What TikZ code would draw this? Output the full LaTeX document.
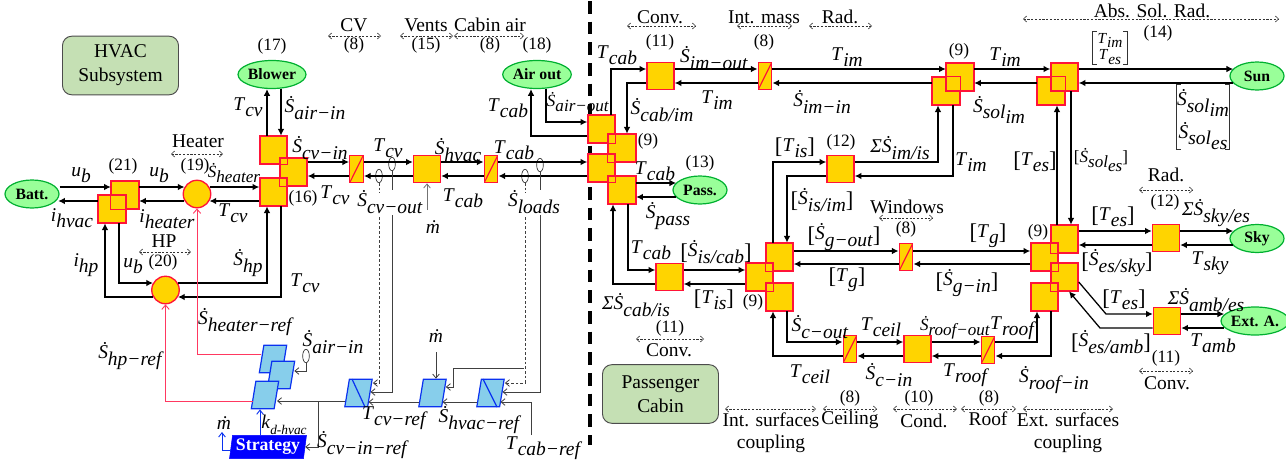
\documentclass[tikz,border=0pt]{standalone}
\usepackage{fontspec}
\setmainfont{Liberation Serif}
\usetikzlibrary{arrows.meta,shapes.geometric}
\definecolor{sqfill}{HTML}{FFD400}
\definecolor{sqred}{HTML}{FF1438}
\definecolor{ellg}{HTML}{99FF99}
\definecolor{elle}{HTML}{00B030}
\definecolor{boxg}{HTML}{C5E0B4}
\definecolor{pfill}{HTML}{87CEEB}
\definecolor{pblue}{HTML}{0A32F0}
\definecolor{pinkl}{HTML}{FF3860}
\newcommand{\fL}{\fontsize{14.6}{17}\selectfont}
\newcommand{\fN}{\fontsize{13}{15}\selectfont}
\newcommand{\Sd}{\textit{\.S}}
\newcommand{\Md}{\textit{\.m}}
\newcommand{\Lab}[2]{\textit{#1}\raisebox{-0.32em}{\textit{#2}}}
\newcommand{\Sl}[1]{\Sd\raisebox{-0.32em}{\textit{#1}}}
\newcommand{\Tl}[1]{\textit{T}\raisebox{-0.32em}{\textit{#1}}}
\newcommand{\lB}{\raisebox{-0.12em}{\fontsize{17}{17}\selectfont[}}
\newcommand{\rB}{\raisebox{-0.12em}{\fontsize{17}{17}\selectfont]}}
\newcommand{\ph}{\phantom{\rule{2pt}{2pt}}}
\newcounter{lc}
\newcommand{\lb}[3]{\stepcounter{lc}\node[lbl] (L\arabic{lc}) at (#1,#2) {#3};}
\newcommand{\nm}[3]{\stepcounter{lc}\node[numl] (L\arabic{lc}) at (#1,#2) {#3};}
\newcommand{\ls}[3]{\stepcounter{lc}\node[lbl,font=\fontsize{12.8}{14}\selectfont] (L\arabic{lc}) at (#1,#2) {#3};}
\newcommand{\rng}[3]{\draw[rangeln] (#1,#3) -- (#2,#3);}
\newcommand{\ov}[1]{\draw[sqline] (#1.south west) rectangle (#1.north east);}
\newcommand{\brk}[1]{\draw[brkline] ([xshift=3pt]#1.north west) -- (#1.north west) -- (#1.south west) -- ([xshift=3pt]#1.south west); \draw[brkline] ([xshift=-3pt]#1.north east) -- (#1.north east) -- (#1.south east) -- ([xshift=-3pt]#1.south east);}
\tikzset{
 lbl/.style={inner sep=0pt,font=\fL},
 numl/.style={inner sep=0pt,font=\fN},
 sqr/.style={draw=sqred,fill=sqfill,line width=1pt,minimum width=20.4pt,minimum height=20.6pt,inner sep=0pt},
 sqline/.style={draw=sqred,line width=1pt},
 brkline/.style={draw=black!80,line width=0.7pt},
 convb/.style={draw=sqred,fill=sqfill,line width=1pt,minimum width=10.2pt,minimum height=20.6pt,inner sep=0pt,
   path picture={\draw[sqred,line width=0.9pt] (path picture bounding box.south west) -- (path picture bounding box.north east);}},
 circb/.style={circle,draw=sqred,fill=sqfill,line width=1pt,minimum size=20.6pt,inner sep=0pt},
 ell/.style={ellipse,draw=elle,fill=ellg,line width=0.9pt,minimum width=40.5pt,minimum height=21pt,inner sep=0pt,font=\fontsize{11.8}{13}\selectfont\bfseries},
 gbox/.style={draw=black!70,fill=boxg,rounded corners=7pt,line width=0.7pt,align=center,inner sep=0pt,font=\fL},
 pgm/.style={trapezium,trapezium left angle=76,trapezium right angle=104,trapezium stretches=true,draw=pblue,fill=pfill,line width=0.9pt,minimum width=20.5pt,minimum height=20.6pt,inner sep=0pt},
 sens/.style={ellipse,draw=black!80,line width=0.5pt,minimum width=5pt,minimum height=10pt,inner sep=0pt},
 ar/.style={draw=black,line width=0.95pt,-{Latex[length=5pt,width=5pt]}},
 ctl/.style={draw=black!75,line width=0.6pt,-{Straight Barb[length=3pt,width=5pt]}},
 ctd/.style={ctl,dashed,dash pattern=on 2pt off 1.5pt},
 ctr/.style={draw=pinkl,line width=0.7pt,-{Straight Barb[length=3.2pt,width=5.5pt]}},
 ctb/.style={draw=pblue,line width=0.7pt,-{Straight Barb[length=3.2pt,width=5pt]}},
 rangeln/.style={draw=black!80,line width=0.45pt,dash pattern=on 1.6pt off 1.2pt,{Straight Barb[length=2.4pt,width=4.5pt]}-{Straight Barb[length=2.4pt,width=4.5pt]}}
}
\begin{document}
\begin{tikzpicture}[x=0.75pt,y=-0.75pt]
\useasboundingbox (0,0) rectangle (1286,461);
% divider
\draw[line width=2.6pt,dash pattern=on 9.5pt off 6pt] (590,1) -- (590,445);
% boxes
\node[gbox,minimum width=87pt,minimum height=44pt] (hvac) at (120.5,65.5) {HVAC\\[1pt]Subsystem};
\node[gbox,minimum width=87pt,minimum height=44pt] (cabin) at (660.5,394) {Passenger\\[1pt]Cabin};
% ellipses
\node[ell] (batt) at (32,194) {Batt.};
\node[ell] (blower) at (272,74.5) {Blower};
\node[ell] (airout) at (537,74.5) {Air out};
\node[ell] (pass) at (700,190) {Pass.};
\node[ell] (sun) at (1257,76) {Sun};
\node[ell] (sky) at (1257,238.5) {Sky};
\node[ell] (exta) at (1255,321) {Ext. A.};
% squares
\node[sqr] (s21a) at (125,195) {};
\node[sqr] (s21b) at (112,209) {};
\node[circb] (c19) at (197,194) {};
\node[circb] (c20) at (165.5,290) {};
\node[sqr] (s16a) at (273.5,150) {};
\node[sqr] (s16b) at (293.5,172) {};
\node[sqr] (s16c) at (273.5,192) {};
\node[convb] (conv1) at (356.5,169) {};
\node[sqr] (s15) at (427,169) {};
\node[convb] (conv2) at (491,169) {};
\node[sqr] (s9a) at (601.5,129) {};
\node[sqr] (s9b) at (622,148) {};
\node[sqr] (s9c) at (601.5,168) {};
\node[sqr] (s9d) at (622,190) {};
\node[sqr] (s11a) at (660.5,76) {};
\node[convb] (conv3) at (765,76) {};
\node[sqr] (s9f) at (946,91) {};
\node[sqr] (s9e) at (960,77) {};
\node[sqr] (s14b) at (1051,91) {};
\node[sqr] (s14a) at (1064.5,77) {};
\node[sqr] (s12a) at (840.5,169) {};
\node[sqr] (s11b) at (669.5,277) {};
\node[sqr] (s9g) at (779.5,257) {};
\node[sqr] (s9h) at (759.5,277) {};
\node[sqr] (s9i) at (779.5,297) {};
\node[convb] (conv4) at (906,257) {};
\node[sqr] (s9j) at (1064.5,239) {};
\node[sqr] (s9k) at (1044.5,257) {};
\node[sqr] (s9l) at (1064.5,277) {};
\node[sqr] (s9m) at (1044.5,297) {};
\node[sqr] (s12b) at (1166,238) {};
\node[sqr] (s11c) at (1167,321) {};
\node[convb] (conv5) at (850,349) {};
\node[sqr] (s10) at (917.5,349) {};
\node[convb] (conv6) at (988,350) {};
\ov{s21a}\ov{s21b}\ov{s16a}\ov{s16b}\ov{s16c}\ov{s9a}\ov{s9b}\ov{s9c}\ov{s9d}\ov{s9e}\ov{s9f}\ov{s14a}\ov{s14b}\ov{s9g}\ov{s9h}\ov{s9i}\ov{s9j}\ov{s9k}\ov{s9l}\ov{s9m}
% parallelograms
\node[pgm] (p1) at (273,359) {\ph};
\node[pgm] (p2) at (281,375) {\ph};
\node[pgm] (p3) at (265,395) {\ph};
\node[pgm] (p4) at (358.5,393) {\ph};
\node[pgm] (p5) at (432.5,393) {\ph};
\node[pgm] (p6) at (490.5,393) {\ph};
\draw[pblue,line width=0.9pt] (352,379) -- (365,407) (483,379) -- (497,407);
\node[trapezium,trapezium left angle=80,trapezium right angle=100,trapezium stretches=true,fill=blue,draw=blue,minimum width=58pt,minimum height=17.5pt,inner sep=0pt,text=white,font=\fontsize{13.3}{15}\selectfont\bfseries] (strat) at (268,447) {Strategy};
% sensors
\node[sens] (eAir) at (306,356) {};
\node[sens] (eTcv) at (392,164) {};
\node[sens] (eScv) at (379,176) {};
\node[sens] (eLoad) at (525,176) {};
\node[sens] (eTcab) at (540,165) {};
% left row
\draw[ar] (batt.east |- 0,187) -- (s21a.west |- 0,187);
\draw[ar] (s21a.east |- 0,187) -- ([xshift=1.4pt]c19.west |- 0,187);
\draw[ar] ([xshift=-1.4pt]c19.east |- 0,187) -- (s16c.west |- 0,187);
\draw[ar] (s16c.west |- 0,201) -- ([xshift=-1.4pt]c19.east |- 0,201);
\draw[ar] ([xshift=1.4pt]c19.west |- 0,201) -- (s21a.east |- 0,201);
\draw[ar] (s21b.west |- 0,201) -- ([xshift=-1pt]batt.east |- 0,201);
\draw[ar] (s16a.north -| 267,0) -- (blower.south -| 267,0);
\draw[ar] (blower.south -| 281,0) -- (s16a.north -| 281,0);
\draw[ar] ([xshift=-1.4pt]c20.east |- 0,283) -| (s16c.south -| 267,0);
\draw[ar] (s16c.south -| 281,0) |- ([xshift=-1.4pt]c20.east |- 0,297);
\draw[ar] ([xshift=1.4pt]c20.west |- 0,297) -| (s21b.south -| 105,0);
\draw[ar] (s21b.south -| 119,0) |- ([xshift=1.4pt]c20.west |- 0,283);
% middle row
\draw[ar] (s16b.east |- 0,162) -- (conv1.west |- 0,162);
\draw[ar] (conv1.east |- 0,162) -- (s15.west |- 0,162);
\draw[ar] (s15.east |- 0,162) -- (conv2.west |- 0,162);
\draw[ar] (conv2.east |- 0,162) -- (s9c.west |- 0,162);
\draw[ar] (s9c.west |- 0,176) -- (conv2.east |- 0,176);
\draw[ar] (conv2.west |- 0,176) -- (s15.east |- 0,176);
\draw[ar] (s15.west |- 0,176) -- (conv1.east |- 0,176);
\draw[ar] (conv1.west |- 0,176) -- (s16b.east |- 0,176);
\draw[ar] (s9a.west |- 0,136) -| (airout.south -| 531,0);
\draw[ar] (airout.south -| 546,0) |- (s9a.west |- 0,122);
\draw[ar] (s9a.north -| 611,0) |- (s11a.west |- 0,69);
\draw[ar] (s11a.west |- 0,83) -| (s9b.north -| 627,0);
% upper right
\draw[ar] (s11a.east |- 0,69) -- (conv3.west |- 0,69);
\draw[ar] (conv3.east |- 0,69) -- (s9e.west |- 0,69);
\draw[ar] (s9e.east |- 0,69) -- (s14a.west |- 0,69);
\draw[ar] (s14a.east |- 0,69) -- ([xshift=2.8pt]sun.west |- 0,69);
\draw[ar] ([xshift=2.8pt]sun.west |- 0,83) -- (s14a.east |- 0,83);
\draw[ar] (s14b.west |- 0,83) -- (s9e.east |- 0,83);
\draw[ar] (s9f.west |- 0,83) -- (conv3.east |- 0,83);
\draw[ar] (conv3.west |- 0,83) -- (s11a.east |- 0,83);
\draw[ar] (s9j.north -| 1057,0) -- (s14b.south -| 1057,0);
\draw[ar] (s14a.south -| 1071,0) -- (s9j.north -| 1071,0);
\draw[ar] (s12a.east |- 0,162) -| (s9f.south -| 938,0);
\draw[ar] (s9f.south -| 953,0) |- (s12a.east |- 0,176);
\draw[ar] (s9g.north -| 773,0) |- (s12a.west |- 0,162);
\draw[ar] (s12a.west |- 0,176) -| (s9g.north -| 787,0);
% pass
\draw[ar] (s9d.east |- 0,183) -- ([xshift=2.8pt]pass.west |- 0,183);
\draw[ar] ([xshift=2.8pt]pass.west |- 0,197) -- (s9d.east |- 0,197);
\draw[ar] (s9d.south -| 628,0) |- (s11b.west |- 0,270);
\draw[ar] (s11b.west |- 0,284) -| (s9d.south -| 613,0);
\draw[ar] (s11b.east |- 0,270) -- (s9h.west |- 0,270);
\draw[ar] (s9h.west |- 0,284) -- (s11b.east |- 0,284);
% windows row
\draw[ar] (s9g.east |- 0,251) -- (conv4.west |- 0,251);
\draw[ar] (conv4.east |- 0,251) -- (s9k.west |- 0,251);
\draw[ar] (s9k.west |- 0,264) -- (conv4.east |- 0,264);
\draw[ar] (conv4.west |- 0,264) -- (s9g.east |- 0,264);
% ceiling row
\draw[ar] (s9i.south -| 787,0) |- (conv5.west |- 0,342);
\draw[ar] (conv5.west |- 0,356) -| (s9i.south -| 773,0);
\draw[ar] (conv5.east |- 0,342) -- (s10.west |- 0,342);
\draw[ar] (s10.west |- 0,356) -- (conv5.east |- 0,356);
\draw[ar] (s10.east |- 0,342) -- (conv6.west |- 0,342);
\draw[ar] (conv6.west |- 0,356) -- (s10.east |- 0,356);
\draw[ar] (conv6.east |- 0,342) -| (s9m.south -| 1037,0);
\draw[ar] (s9m.south -| 1051,0) |- (conv6.east |- 0,356);
% sky, amb
\draw[ar] (s9j.east |- 0,231) -- (s12b.west |- 0,231);
\draw[ar] (s12b.west |- 0,245) -- (s9j.east |- 0,245);
\draw[ar] (s12b.east |- 0,231) -- ([xshift=2.8pt]sky.west |- 0,231);
\draw[ar] ([xshift=2.8pt]sky.west |- 0,245) -- (s12b.east |- 0,245);
\draw[ar] (s9l.east |- 0,282) -- (1106,314) -- (s11c.west |- 0,314);
\draw[ar] (s11c.west |- 0,328) -- (1100,328) -- (s9l.south -| 1069,0);
\draw[ar] (s11c.east |- 0,314) -- ([xshift=2.8pt]exta.west |- 0,314);
\draw[ar] ([xshift=2.8pt]exta.west |- 0,328) -- (s11c.east |- 0,328);
% control
\draw[ctr] (p1.west |- 0,354) -| (c19.south);
\draw[ctr] (p3.west |- 0,401) -| (c20.south);
\draw[ctl] (eAir.south) |- ([xshift=1pt]p2.east |- 0,371);
\draw[ctl] ([xshift=-1.5pt]p4.west |- 0,401) -- (p3.east |- 0,401);
\coordinate (brA) at (318,401);
\draw[ctl] (brA) |- (strat.east |- 0,447);
\draw[ctl] ([xshift=-1.5pt]p5.west |- 0,402) -- ([xshift=-1.5pt]p4.east |- 0,402);
\draw[ctl] ([xshift=-1.5pt]p6.west |- 0,402) -- ([xshift=-1.5pt]p5.east |- 0,402);
\coordinate (tcabref) at (531,435);
\draw[ctl] (tcabref) |- ([xshift=-1.5pt]p6.east |- 0,402);
\draw[ctl] (eTcv.south) -- ++(0,19) ++(0,25) |- (p4.east |- 0,392);
\draw[ctd] (eScv.south) -- ++(0,10) ++(0,24) |- ([xshift=1.8pt]p4.east |- 0,383);
\draw[ctd] (eLoad.south) -- ++(0,10) ++(0,24) |- ([xshift=1.8pt]p6.east |- 0,383);
\draw[ctl] (eTcab.south) -- ++(0,18) ++(0,25) |- (p6.east |- 0,392);
\coordinate (brB) at (524,368);
\draw[ctl] (brB) -| (453,387) -- ([xshift=1pt]p5.east |- 0,387);
\coordinate (m1) at (427,210);
\draw[ctl,draw=black!55] (m1) -- (s15.south);
\draw[ctl] (436,352) -- (p5.north -| 436,0);
\draw[ctb] (strat.north -| 260,0) -- (p3.south -| 260,0);
\coordinate (m3) at (222,432);
\draw[ctb] (strat.west |- 0,450) -| (m3);
% ranges
\rng{171}{223}{154}\rng{139}{191}{252}
\rng{328}{381}{36}\rng{400}{453}{36}\rng{454}{524}{36}
\rng{627}{696}{26}\rng{737}{792}{26}\rng{809}{872}{26}
\rng{1023}{1279}{19}\rng{879}{933}{218}\rng{1139}{1193}{190}
\rng{636}{704}{339}\rng{725}{816}{409}\rng{823}{877}{409}\rng{893}{957}{409}\rng{961}{1016}{409}\rng{1023}{1113}{409}\rng{1139}{1193}{371}
% section texts
\lb{198}{141}{Heater}\lb{164}{241}{HP}
\lb{354}{25}{CV}\lb{426}{25}{Vents}\lb{490}{25}{Cabin air}
\lb{660}{17}{Conv.}\lb{764}{17}{Int. mass}\lb{840}{17}{Rad.}
\lb{1152}{11}{Abs. Sol. Rad.}\lb{907}{207}{Windows}\lb{1166}{175}{Rad.}
\lb{669}{350}{Conv.}\lb{771}{420}{Int. surfaces}\lb{771}{444}{coupling}
\lb{850}{420}{Ceiling}\lb{924}{421}{Cond.}\lb{988}{419}{Roof}\lb{1068}{420}{Ext. surfaces}\lb{1068}{444}{coupling}\lb{1167}{383}{Conv.}
% numbers
\nm{272}{46}{(17)}\nm{123}{166}{(21)}\nm{195}{166}{(19)}\nm{303}{198}{(16)}\nm{163}{262}{(20)}
\nm{354}{45}{(8)}\nm{426}{45}{(15)}\nm{490}{45}{(8)}\nm{537}{45}{(18)}
\nm{660}{42}{(11)}\nm{764}{42}{(8)}\nm{959}{51}{(9)}\nm{1158}{33}{(14)}
\nm{648}{141}{(9)}\nm{841}{142}{(12)}\nm{700}{163}{(13)}\nm{906}{229}{(8)}\nm{1165}{202}{(12)}
\nm{1038}{232}{(9)}\nm{753}{302}{(9)}\nm{670}{328}{(11)}\nm{850}{398}{(8)}\nm{919}{398}{(10)}\nm{989}{398}{(8)}\nm{1166}{358}{(11)}
% left labels
\lb{81}{175}{\Lab{u}{b}}\lb{159}{175}{\Lab{u}{b}}
\lb{72}{218}{\Lab{i}{hvac}}\lb{167}{219}{\Lab{i}{heater}}
\ls{234}{173}{\Sl{heater}}
\lb{233}{213}{\Tl{cv}}\lb{248}{107}{\Tl{cv}}
\lb{315}{108}{\Sl{air−in}}\lb{320}{148}{\Sl{cv−in}}
\lb{388}{148}{\Tl{cv}}\lb{335}{195}{\Tl{cv}}\lb{390}{202}{\Sl{cv−out}}
\lb{458}{150}{\Sl{hvac}}\lb{463}{198}{\Tl{cab}}\lb{514}{150}{\Tl{cab}}\lb{534}{202}{\Sl{loads}}
\lb{508}{108}{\Tl{cab}}\ls{578}{102}{\Sl{air−out}}\lb{617}{55}{\Tl{cab}}
\lb{248}{263}{\Sl{hp}}\lb{305}{283}{\Tl{cv}}\lb{86}{265}{\Lab{i}{hp}}\lb{133}{266}{\Lab{u}{b}}
\lb{246}{322}{\Sl{heater−ref}}\lb{131}{356}{\Sl{hp−ref}}\lb{333}{342}{\Sl{air−in}}
\lb{224}{423}{\Md}\lb{433}{227}{\Md}\lb{436}{336}{\Md}
\lb{284}{425}{\textit{k}\raisebox{-0.3em}{\fontsize{10}{11}\selectfont\textit{d-hvac}}}
\lb{363}{445}{\Sl{cv−in−ref}}\lb{395}{418}{\Tl{cv−ref}}\lb{480}{420}{\Sl{hvac−ref}}\lb{544}{448}{\Tl{cab−ref}}
% right labels
\lb{714}{58}{\Sl{im−out}}\lb{847}{57}{\Tl{im}}\lb{717}{100}{\Tl{im}}\lb{822}{102}{\Sl{im−in}}
\lb{662}{110}{\Sl{cab/im}}\lb{655}{171}{\Tl{cab}}\lb{668}{216}{\Sl{pass}}
\lb{795}{148}{\lB\Tl{is}\rB}\lb{900}{148}{\textit{Σ}\Sl{im/is}}\lb{822}{200}{\lB\Sl{is/im}\rB}
\lb{971}{162}{\Tl{im}}\lb{1005}{57}{\Tl{im}}\lb{999}{110}{\Sd\raisebox{-0.32em}{\textit{sol}\raisebox{-0.28em}{\textit{im}}}}
\lb{1035}{162}{\lB\Tl{es}\rB}\ls{1101}{160}{[\Sd\raisebox{-0.32em}{\textit{sol}\raisebox{-0.25em}{\textit{es}}}]}
\node[inner sep=0pt,minimum width=25.5pt,minimum height=23pt,font=\fontsize{11.5}{13}\selectfont] (mT) at (1110,48) {\renewcommand{\arraystretch}{0.95}\begin{tabular}{@{}c@{}}\Tl{im}\\\Tl{es}\end{tabular}};
\node[inner sep=0pt,minimum width=38pt,minimum height=43.5pt,font=\fL] (mS) at (1203,117) {\renewcommand{\arraystretch}{1.35}\begin{tabular}{@{}c@{}}\Sd\raisebox{-0.32em}{\textit{sol}\raisebox{-0.25em}{\textit{im}}}\\\Sd\raisebox{-0.32em}{\textit{sol}\raisebox{-0.25em}{\textit{es}}}\end{tabular}};
\brk{mT}\brk{mS}
\lb{1113}{217}{\lB\Tl{es}\rB}\lb{1216}{213}{\textit{Σ}\Sl{sky/es}}
\lb{988}{236}{\lB\Tl{g}\rB}\lb{844}{237}{\lB\Sl{g−out}\rB}\lb{847}{280}{\lB\Tl{g}\rB}\lb{967}{283}{\lB\Sl{g−in}\rB}
\lb{1117}{263}{\lB\Sl{es/sky}\rB}\lb{1210}{263}{\Tl{sky}}
\lb{1124}{300}{\lB\Tl{es}\rB}\lb{1206}{300}{\textit{Σ}\Sl{amb/es}}\lb{1213}{343}{\Tl{amb}}\lb{1111}{342}{\lB\Sl{es/amb}\rB}
\lb{1054}{380}{\Sl{roof−in}}\lb{1013}{328}{\Tl{roof}}
\ls{955}{328}{\Sl{roof−out}}
\lb{881}{327}{\Tl{ceil}}\lb{820}{327}{\Sl{c−out}}\lb{810}{374}{\Tl{ceil}}\lb{889}{375}{\Sl{c−in}}\lb{966}{375}{\Tl{roof}}
\lb{714}{300}{\lB\Tl{is}\rB}\lb{716}{252}{\lB\Sl{is/cab}\rB}\lb{651}{250}{\Tl{cab}}\lb{636}{305}{\textit{Σ}\Sl{cab/is}}
\end{tikzpicture}
\end{document}
